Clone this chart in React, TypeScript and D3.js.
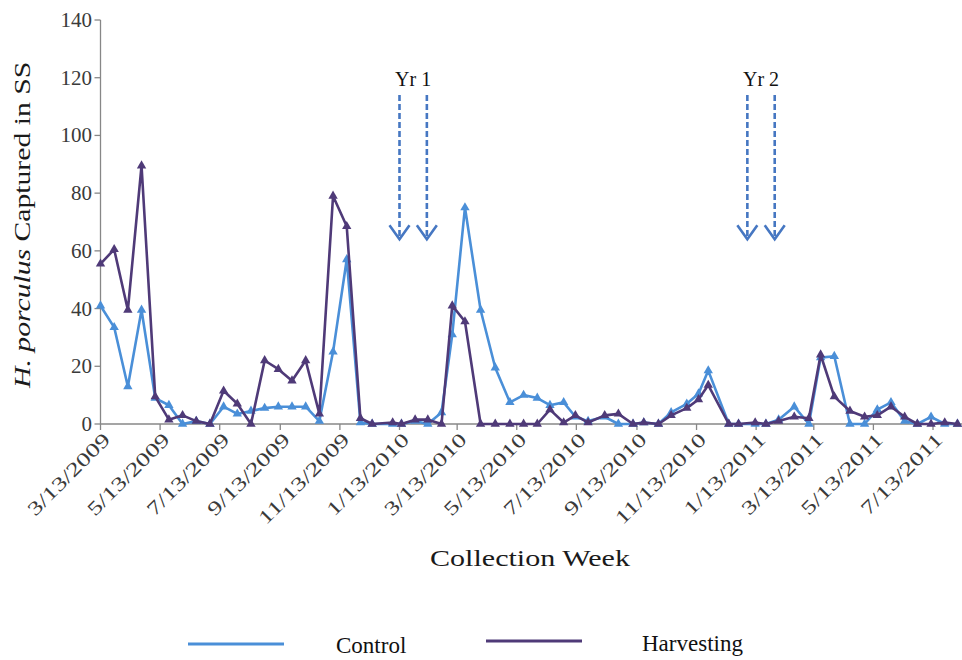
import React, { useEffect, useRef } from 'react';
import * as d3 from 'd3';

// Collection dates (roughly biweekly sampling)
const collectionDates: string[] = [
  '2009-03-13', '2009-03-27', '2009-04-10', '2009-04-24', '2009-05-08', '2009-05-22',
  '2009-06-05', '2009-06-19', '2009-07-03', '2009-07-17', '2009-07-31', '2009-08-14',
  '2009-08-28', '2009-09-11', '2009-09-25', '2009-10-09', '2009-10-23', '2009-11-06',
  '2009-11-20', '2009-12-04', '2009-12-16', '2010-01-06', '2010-01-15', '2010-01-29',
  '2010-02-11', '2010-02-25', '2010-03-08', '2010-03-21', '2010-04-06', '2010-04-21',
  '2010-05-06', '2010-05-20', '2010-06-03', '2010-06-16', '2010-06-30', '2010-07-12',
  '2010-07-25', '2010-08-11', '2010-08-25', '2010-09-09', '2010-09-20', '2010-10-05',
  '2010-10-18', '2010-11-03', '2010-11-15', '2010-11-25', '2010-12-16', '2010-12-26',
  '2011-01-12', '2011-01-23', '2011-02-05', '2011-02-21', '2011-03-08', '2011-03-20',
  '2011-04-03', '2011-04-19', '2011-05-04', '2011-05-17', '2011-05-31', '2011-06-14',
  '2011-06-27', '2011-07-11', '2011-07-25', '2011-08-07',
];

const controlCounts: number[] = [
  41, 33.5, 13, 39.5, 9, 6.5,
  0, 1, 0, 6, 3.5, 4.5,
  5.5, 6, 6, 6, 1, 25,
  57, 0.5, 0, 0, 0, 1,
  0, 4, 31, 75, 39.5, 19.5,
  7.5, 10, 9, 6.5, 7.5, 2.5,
  1, 2.5, 0, 0, 0.5, 0,
  4, 7, 10.5, 18.5, 0, 0,
  0, 0, 1.5, 6, 0, 23,
  23.5, 0, 0, 5, 7.5, 1,
  0, 2.5, 0, 0,
];

const harvestingCounts: number[] = [
  55.5, 60.5, 39.5, 89.5, 9.5, 1.5,
  3, 1, 0, 11.5, 7, 0,
  22, 19, 15, 22, 3.5, 79,
  68.5, 2, 0, 0.5, 0, 1.5,
  1.5, 0, 41, 35.5, 0, 0,
  0, 0, 0, 5, 0.5, 3,
  0.5, 3, 3.5, 0, 0.5, 0,
  3, 5.5, 8.5, 13.5, 0, 0,
  0.5, 0, 1, 2.5, 2, 24,
  9.5, 4.5, 2.5, 3, 6, 2.5,
  0, 0, 0.5, 0,
];

const yTicks: number[] = [0, 20, 40, 60, 80, 100, 120, 140];

const xTickDates: string[] = [
  '2009-03-13', '2009-05-13', '2009-07-13', '2009-09-13', '2009-11-13',
  '2010-01-13', '2010-03-13', '2010-05-13', '2010-07-13', '2010-09-13',
  '2010-11-13', '2011-01-13', '2011-03-13', '2011-05-13', '2011-07-13',
];

const seriesNames: string[] = ['Control', 'Harvesting'];
const seriesColors: string[] = ['#4a8fd8', '#4f3a78'];

// Harvest events, each marked by a pair of dashed arrows
const harvestYears: string[] = ['Yr 1', 'Yr 2'];
const harvestArrowDates: string[][] = [
  ['2010-01-13', '2010-02-10'],
  ['2011-01-04', '2011-02-01'],
];
const arrowTopValue = 114;
const arrowTipValue = 64;

const W = 962;
const H = 660;
const serif = "'Liberation Serif', 'Times New Roman', Times, serif";

// Widen a text element's glyphs by a factor along its baseline
function widen(sel: d3.Selection<SVGTextElement, unknown, null, undefined>, k: number) {
  const node = sel.node();
  if (!node) return;
  const len = node.getComputedTextLength();
  sel.attr('textLength', len * k).attr('lengthAdjust', 'spacingAndGlyphs');
}

export default function App() {
  const ref = useRef<SVGSVGElement | null>(null);

  useEffect(() => {
    const svg = d3.select(ref.current);
    svg.selectAll('*').remove();

    const parse = d3.utcParse('%Y-%m-%d');
    const fmt = d3.utcFormat('%-m/%-d/%Y');

    const x = d3
      .scaleUtc()
      .domain([parse('2009-03-13')!, parse('2011-07-13')!])
      .range([100.5, 933]);
    const y = d3.scaleLinear().domain([0, 140]).range([424, 20]);

    const axisColor = '#878787';
    const labelColor = '#3a3a3a';

    const txt = (g: any) => g.append('text').style('font-family', serif);

    // Y axis
    const gy = svg.append('g');
    gy.append('line')
      .attr('x1', x.range()[0]).attr('x2', x.range()[0])
      .attr('y1', y(140)).attr('y2', y(0))
      .attr('stroke', axisColor).attr('stroke-width', 1.3);
    yTicks.forEach((t) => {
      gy.append('line')
        .attr('x1', x.range()[0] - 6).attr('x2', x.range()[0])
        .attr('y1', y(t)).attr('y2', y(t))
        .attr('stroke', axisColor).attr('stroke-width', 1.3);
      const tl = txt(gy)
        .attr('x', 92).attr('y', y(t))
        .attr('dy', '0.35em')
        .attr('text-anchor', 'end')
        .attr('font-size', 20)
        .attr('fill', labelColor)
        .text(String(t));
      widen(tl, 1.05);
    });

    // X axis
    const gx = svg.append('g');
    gx.append('line')
      .attr('x1', x.range()[0]).attr('x2', W)
      .attr('y1', y(0)).attr('y2', y(0))
      .attr('stroke', axisColor).attr('stroke-width', 1.3);
    xTickDates.forEach((ds) => {
      const d = parse(ds)!;
      const px = x(d);
      gx.append('line')
        .attr('x1', px).attr('x2', px)
        .attr('y1', y(0)).attr('y2', y(0) + 6)
        .attr('stroke', axisColor).attr('stroke-width', 1.3);
      const tl = txt(gx)
        .attr('transform', `translate(${px + 6},${y(0) + 12}) rotate(-45)`)
        .attr('text-anchor', 'end')
        .attr('dy', '0.35em')
        .attr('font-size', 19.5)
        .attr('fill', labelColor)
        .text(fmt(d));
      widen(tl, 1.36);
    });

    // Axis titles
    const yTitle = txt(svg)
      .attr('transform', `translate(30,${y(69)}) rotate(-90)`)
      .attr('text-anchor', 'middle')
      .attr('font-size', 23)
      .attr('fill', '#1a1a1a');
    yTitle.append('tspan').attr('font-style', 'italic').text('H. porculus');
    yTitle.append('tspan').text(' Captured in SS');
    yTitle.attr('textLength', 326).attr('lengthAdjust', 'spacingAndGlyphs');

    txt(svg)
      .attr('x', 530).attr('y', 566)
      .attr('text-anchor', 'middle')
      .attr('font-size', 23)
      .attr('fill', '#1a1a1a')
      .attr('textLength', 200)
      .attr('lengthAdjust', 'spacingAndGlyphs')
      .text('Collection Week');

    // Series
    const series = [controlCounts, harvestingCounts];
    const tri = d3.symbol().type(d3.symbolTriangle).size(38);
    series.forEach((vals, si) => {
      const pts = vals.map((v, i) => ({ date: parse(collectionDates[i])!, v }));
      const line = d3
        .line<{ date: Date; v: number }>()
        .x((p) => x(p.date))
        .y((p) => y(p.v));
      const g = svg.append('g');
      g.append('path')
        .datum(pts)
        .attr('d', line)
        .attr('fill', 'none')
        .attr('stroke', seriesColors[si])
        .attr('stroke-width', 2.6)
        .attr('stroke-linejoin', 'round');
      g.selectAll('path.m')
        .data(pts)
        .join('path')
        .attr('class', 'm')
        .attr('d', tri as any)
        .attr('transform', (p) => `translate(${x(p.date)},${y(p.v)})`)
        .attr('fill', seriesColors[si]);
    });

    // Harvest arrows
    const arrowColor = '#4677c2';
    harvestYears.forEach((label, hi) => {
      const xs = harvestArrowDates[hi].map((ds) => x(parse(ds)!));
      const g = svg.append('g');
      xs.forEach((ax) => {
        g.append('line')
          .attr('x1', ax).attr('x2', ax)
          .attr('y1', y(arrowTopValue)).attr('y2', y(arrowTipValue) - 2)
          .attr('stroke', arrowColor).attr('stroke-width', 2.6)
          .attr('stroke-dasharray', '6,3');
        g.append('path')
          .attr('d', `M${ax - 10},${y(arrowTipValue) - 14} L${ax},${y(arrowTipValue)} L${ax + 10},${y(arrowTipValue) - 14}`)
          .attr('fill', 'none')
          .attr('stroke', arrowColor).attr('stroke-width', 2.6);
      });
      txt(g)
        .attr('x', (xs[0] + xs[1]) / 2).attr('y', y(arrowTopValue) - 9)
        .attr('text-anchor', 'middle')
        .attr('font-size', 20)
        .attr('fill', '#111')
        .text(label);
    });

    // Legend
    const legendItems = [
      { x1: 188, x2: 284, ly: 644, tx: 336, ty: 653 },
      { x1: 486, x2: 582, ly: 641, tx: 642, ty: 651 },
    ];
    legendItems.forEach((it, i) => {
      svg.append('line')
        .attr('x1', it.x1).attr('x2', it.x2)
        .attr('y1', it.ly).attr('y2', it.ly)
        .attr('stroke', seriesColors[i]).attr('stroke-width', 3);
      txt(svg)
        .attr('x', it.tx).attr('y', it.ty)
        .attr('font-size', 23)
        .attr('fill', '#111')
        .text(seriesNames[i]);
    });
  }, []);

  return (
    <div style={{ position: 'absolute', left: 0, top: 0, width: W, height: H, background: '#fff' }}>
      <svg ref={ref} width={W} height={H} style={{ display: 'block' }} />
    </div>
  );
}
